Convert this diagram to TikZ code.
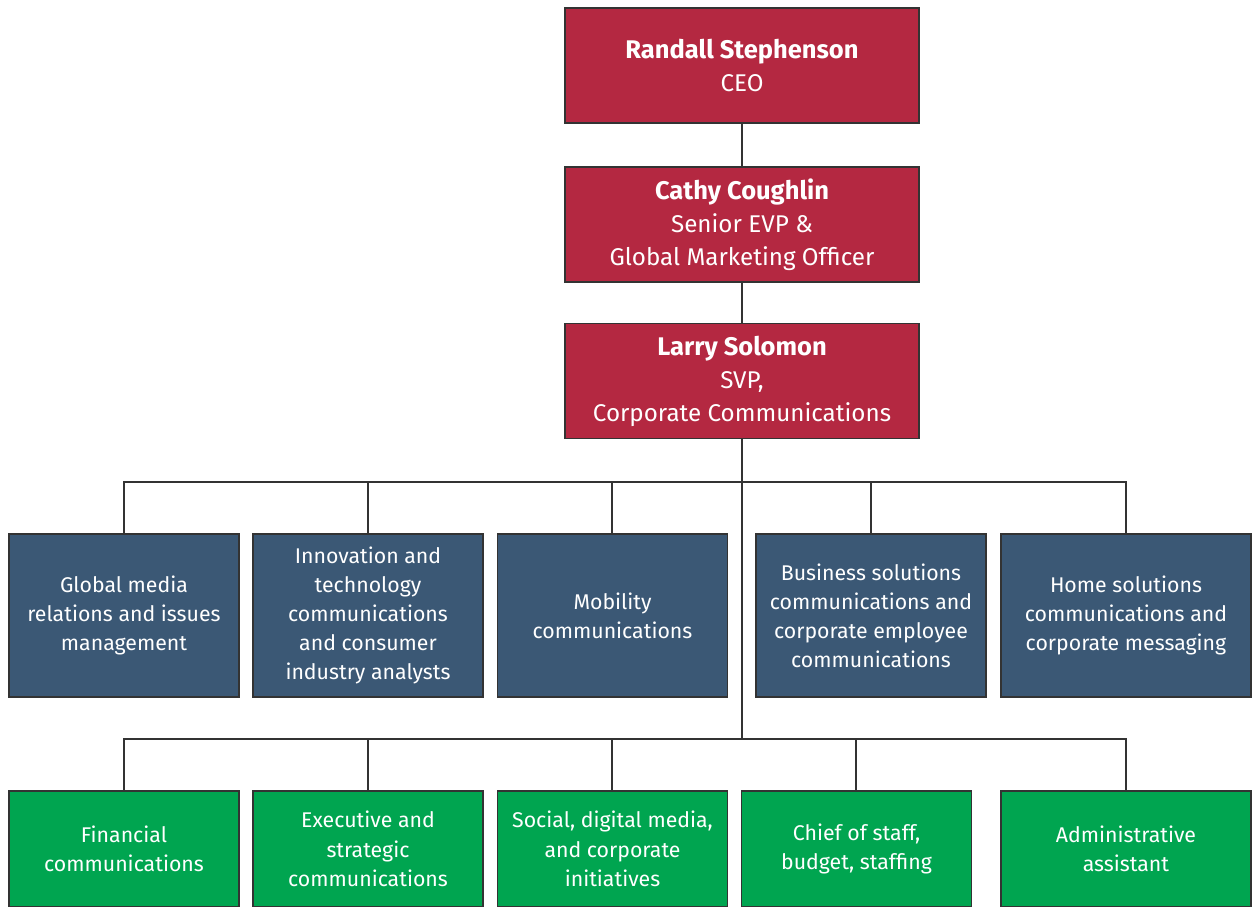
\documentclass[tikz,border=0pt]{standalone}
\usepackage{fontspec}
\setmainfont{Fira Sans}
\definecolor{execred}{HTML}{B42841}
\definecolor{deptblue}{HTML}{3B5875}
\definecolor{deptgreen}{HTML}{00A550}
\definecolor{edge}{HTML}{333333}
\newcommand{\pname}[1]{{\fontsize{25.5}{33}\selectfont\textbf{#1}}}
\tikzset{
  box/.style={draw=edge, line width=1.6pt, text=white, align=center, inner sep=0pt},
  execbox/.style={box, fill=execred, minimum width=354pt, minimum height=115pt, font=\fontsize{24.2}{33}\selectfont},
  bluebox/.style={box, fill=deptblue, minimum width=230pt, minimum height=163pt, font=\fontsize{21.3}{29}\selectfont},
  greenbox/.style={box, fill=deptgreen, minimum width=230pt, minimum height=116pt, font=\fontsize{21.3}{29.5}\selectfont},
  wire/.style={draw=edge, line width=1.6pt}
}
\begin{document}
\begin{tikzpicture}[x=1pt,y=-1pt]
\useasboundingbox (0,0) rectangle (1256,906);
\clip (0,0) rectangle (1256,906);
\fill[white] (0,0) rectangle (1256,906);
% executives
\node[execbox] (ceo) at (742,65.5) {\pname{Randall Stephenson}\\CEO};
\node[execbox] (cmo) at (742,224.5) {\pname{Cathy Coughlin}\\Senior EVP \&\\Global Marketing Officer};
\node[execbox] (svp) at (742,381) {\pname{Larry Solomon}\\SVP,\\Corporate Communications};
% blue row
\node[bluebox] (b1) at (124,615.5) {Global media\\relations and issues\\management};
\node[bluebox] (b2) at (368,615.5) {Innovation and\\technology\\communications\\and consumer\\industry analysts};
\node[bluebox] (b3) at (612.5,615.5) {Mobility\\communications};
\node[bluebox] (b4) at (871,615.5) {Business solutions\\communications and\\corporate employee\\communications};
\node[bluebox, minimum width=250pt] (b5) at (1126,615.5) {Home solutions\\communications and\\corporate messaging};
% green row
\node[greenbox] (g1) at (124,849) {Financial\\communications};
\node[greenbox] (g2) at (368,849) {Executive and\\strategic\\communications};
\node[greenbox] (g3) at (612.5,849) {Social, digital media,\\and corporate\\initiatives};
\node[greenbox] (g4) at (856.5,849) {Chief of staff,\\budget, staffing};
\node[greenbox, minimum width=250pt] (g5) at (1126,849) {Administrative\\assistant};
% connectors
\coordinate (bus1) at (742,482);
\coordinate (bus2) at (742,739);
\draw[wire] (ceo) -- (cmo);
\draw[wire] (cmo) -- (svp);
\draw[wire] (svp.south) -- (bus2);
\draw[wire] (b1.north) |- (bus1) -| (b5.north);
\foreach \n in {b2,b4} \draw[wire] (\n.north) -- (\n.north |- bus1);
\draw[wire] ([xshift=-0.5pt]b3.north) -- ([xshift=-0.5pt]b3.north |- bus1);
\draw[wire] (g1.north) |- (bus2) -| (g5.north);
\draw[wire] (g2.north) -- (g2.north |- bus2);
\draw[wire] ([xshift=-0.5pt]g3.north) -- ([xshift=-0.5pt]g3.north |- bus2);
\draw[wire] ([xshift=-0.5pt]g4.north) -- ([xshift=-0.5pt]g4.north |- bus2);
\end{tikzpicture}
\end{document}
